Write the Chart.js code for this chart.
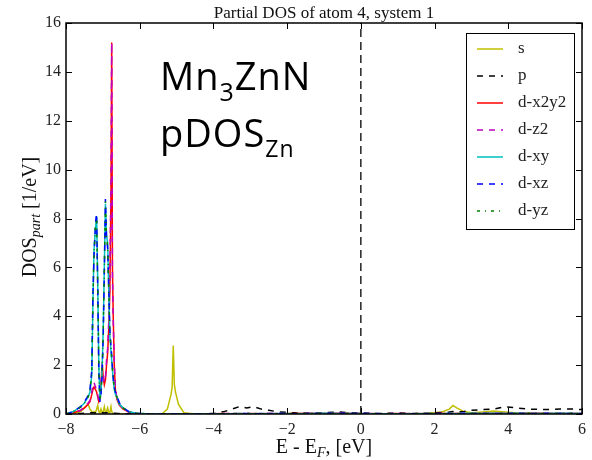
<!DOCTYPE html>
<html>
<head>
<meta charset="utf-8">
<title>Partial DOS of atom 4</title>
<script src="https://cdn.jsdelivr.net/npm/chart.js@4.4.0/dist/chart.umd.min.js"></script>
<style>
  html, body { margin: 0; padding: 0; background: #fff; }
  #wrap { width: 592px; height: 460px; }
</style>
</head>
<body>
<div id="wrap"><canvas id="pdos" width="592" height="460"></canvas></div>
<script>
// energy grid E - E_F [eV], dense around the Zn-d peaks
const energy = [
  -8.0, -7.8, -7.6, -7.5, -7.4, -7.35, -7.3, -7.27, -7.24, -7.2,
  -7.17, -7.14, -7.11, -7.08, -7.05, -7.02, -6.99, -6.96, -6.93, -6.9,
  -6.87, -6.84, -6.81, -6.78, -6.76, -6.74, -6.72, -6.69, -6.66, -6.62,
  -6.55, -6.45, -6.3, -6.1, -5.8, -5.4, -5.25, -5.15, -5.12, -5.09,
  -5.06, -5.03, -4.95, -4.8, -4.5, -4.0, -3.7, -3.5, -3.3, -3.1,
  -2.9, -2.7, -2.5, -2.2, -1.8, -1.4, -1.0, -0.6, -0.2, 0.2,
  0.6, 1.0, 1.4, 1.8, 2.2, 2.4, 2.5, 2.6, 2.8, 3.0,
  3.3, 3.6, 3.9, 4.2, 4.6, 5.0, 5.4, 5.8, 6.0
];

const dosS = [
  0, 0.02, 0.1, 0.25, 0.4, 0.2, 0.1, 0.05, 0.1, 0.05,
  0.2, 0.35, 0.1, 0.05, 0.2, 0.05, 0.1, 0.3, 0.05, 0.1,
  0.25, 0.05, 0.05, 0.3, 0.1, 0.05, 0.02, 0.01, 0, 0,
  0, 0, 0, 0, 0, 0, 0.2, 0.8, 1.1, 2.8,
  1.2, 0.9, 0.4, 0.05, 0, 0, 0, 0, 0, 0,
  0, 0, 0, 0, 0, 0, 0, 0, 0.01, 0,
  0, 0, 0.01, 0.02, 0.08, 0.2, 0.35, 0.25, 0.1, 0.05,
  0.08, 0.12, 0.08, 0.05, 0.03, 0.02, 0.02, 0.01, 0.01
];

const dosP = [
  0, 0.01, 0.02, 0.03, 0.04, 0.04, 0.05, 0.05, 0.04, 0.05,
  0.05, 0.04, 0.03, 0.03, 0.04, 0.05, 0.05, 0.04, 0.05, 0.05,
  0.05, 0.04, 0.05, 0.05, 0.05, 0.04, 0.04, 0.03, 0.03, 0.02,
  0.02, 0.01, 0.01, 0, 0, 0, 0, 0, 0, 0,
  0, 0, 0, 0, 0, 0.02, 0.1, 0.2, 0.3, 0.25,
  0.3, 0.2, 0.15, 0.08, 0.05, 0.03, 0.05, 0.08, 0.05, 0.03,
  0.02, 0.04, 0.02, 0.03, 0.06, 0.08, 0.1, 0.08, 0.1, 0.15,
  0.18, 0.2, 0.3, 0.25, 0.2, 0.18, 0.2, 0.2, 0.18
];

const dosDx2y2 = [
  0, 0.05, 0.15, 0.25, 0.4, 0.5, 0.8, 1.0, 1.1, 1.0,
  0.9, 0.7, 0.5, 0.6, 1.2, 2.1, 1.5, 1.2, 1.4, 2.0,
  2.5, 3.5, 5.0, 9.0, 15.2, 6.0, 4.1, 2.0, 1.0, 0.6,
  0.35, 0.2, 0.08, 0.02, 0.01, 0, 0, 0, 0, 0,
  0, 0, 0, 0, 0, 0.01, 0.02, 0.01, 0.02, 0.01,
  0.02, 0.01, 0.02, 0.01, 0.02, 0.03, 0.02, 0.03, 0.02, 0.01,
  0.01, 0.02, 0.01, 0.02, 0.02, 0.01, 0.02, 0.02, 0.01, 0.02,
  0.02, 0.03, 0.02, 0.02, 0.03, 0.02, 0.02, 0.02, 0.02
];

const dosDz2 = [
  0, 0.05, 0.15, 0.3, 0.45, 0.55, 0.9, 1.2, 1.3, 1.1,
  1.0, 0.8, 0.55, 0.7, 1.3, 1.9, 1.6, 1.3, 1.5, 2.2,
  2.7, 3.8, 5.5, 9.5, 15.2, 5.8, 3.9, 2.1, 1.1, 0.65,
  0.4, 0.22, 0.08, 0.02, 0.01, 0, 0, 0, 0, 0,
  0, 0, 0, 0, 0, 0.01, 0.01, 0.02, 0.01, 0.02,
  0.01, 0.02, 0.01, 0.02, 0.01, 0.02, 0.02, 0.02, 0.03, 0.02,
  0.01, 0.01, 0.02, 0.01, 0.02, 0.02, 0.01, 0.02, 0.02, 0.01,
  0.02, 0.02, 0.03, 0.02, 0.02, 0.02, 0.03, 0.02, 0.02
];

const dosDxy = [
  0, 0.1, 0.3, 0.45, 0.7, 0.9, 1.6, 4.5, 6.7, 7.6,
  8.1, 5.5, 2.0, 0.6, 0.9, 1.8, 3.5, 6.0, 8.6, 7.3,
  7.0, 5.0, 3.2, 2.6, 2.2, 1.8, 1.4, 1.0, 0.8, 0.7,
  0.4, 0.25, 0.1, 0.03, 0.01, 0, 0, 0, 0, 0,
  0, 0, 0, 0, 0, 0, 0, 0.01, 0.02, 0.01,
  0.01, 0.02, 0.01, 0.02, 0.01, 0.02, 0.03, 0.02, 0.02, 0.01,
  0.01, 0.01, 0.01, 0.02, 0.01, 0.02, 0.02, 0.01, 0.02, 0.03,
  0.02, 0.03, 0.02, 0.03, 0.02, 0.02, 0.03, 0.02, 0.02
];

const dosDxz = [
  0, 0.1, 0.3, 0.5, 0.75, 1.0, 1.8, 4.8, 6.5, 7.8,
  8.2, 5.2, 1.8, 0.5, 0.8, 1.6, 3.2, 5.8, 8.8, 7.2,
  6.8, 5.2, 3.4, 2.8, 2.4, 1.9, 1.5, 1.1, 0.9, 0.75,
  0.45, 0.25, 0.1, 0.03, 0.01, 0, 0, 0, 0, 0,
  0, 0, 0, 0, 0, 0, 0.01, 0.01, 0.02, 0.02,
  0.01, 0.01, 0.02, 0.02, 0.01, 0.02, 0.02, 0.03, 0.02, 0.02,
  0.01, 0.02, 0.01, 0.01, 0.02, 0.02, 0.01, 0.02, 0.03, 0.02,
  0.03, 0.02, 0.02, 0.03, 0.02, 0.03, 0.02, 0.02, 0.02
];

const dosDyz = [
  0, 0.1, 0.28, 0.45, 0.7, 0.95, 1.7, 4.6, 6.6, 7.7,
  8.0, 5.4, 1.9, 0.55, 0.85, 1.7, 3.4, 5.9, 8.7, 7.2,
  6.9, 5.1, 3.3, 2.7, 2.3, 1.85, 1.45, 1.05, 0.85, 0.7,
  0.42, 0.25, 0.1, 0.03, 0.01, 0, 0, 0, 0, 0,
  0, 0, 0, 0, 0, 0, 0.01, 0.02, 0.01, 0.02,
  0.02, 0.01, 0.02, 0.01, 0.02, 0.02, 0.02, 0.02, 0.03, 0.02,
  0.02, 0.01, 0.02, 0.02, 0.01, 0.02, 0.02, 0.02, 0.02, 0.02,
  0.02, 0.02, 0.03, 0.02, 0.03, 0.02, 0.02, 0.03, 0.02
];

const seriesNames = ['s', 'p', 'd-x2y2', 'd-z2', 'd-xy', 'd-xz', 'd-yz'];
const seriesValues = [dosS, dosP, dosDx2y2, dosDz2, dosDxy, dosDxz, dosDyz];
const seriesColors = ['#bfbf00', '#000000', '#ff0000', '#bf00bf', '#00bfbf', '#0000ff', '#008000'];
const seriesDash = [[], [6, 6], [], [6, 6], [], [6, 6], [3, 5, 1, 5]];

const xTicks = [-8, -6, -4, -2, 0, 2, 4, 6];
const yTicks = [0, 2, 4, 6, 8, 10, 12, 14, 16];
const fermiEnergy = 0;

const serif = "'Liberation Serif', 'DejaVu Serif', serif";

const datasets = seriesNames.map((name, i) => ({
  label: name,
  data: energy.map((e, k) => ({ x: e, y: seriesValues[i][k] })),
  borderColor: seriesColors[i],
  borderDash: seriesDash[i],
  borderWidth: 1.5,
  pointRadius: 0,
  tension: 0,
  fill: false,
  order: seriesNames.length - i   // later series drawn on top, like matplotlib
}));

function fmt(v) {
  return v < 0 ? '\u2212' + Math.abs(v) : String(v);
}

// draws a run of text pieces (for subscripts) starting at x, baseline y
function drawRuns(ctx, runs, x, y, align, spacing) {
  ctx.letterSpacing = (spacing || 0) + 'px';
  let total = 0;
  runs.forEach(r => { ctx.font = r.font; total += ctx.measureText(r.t).width; });
  let cx = align === 'center' ? x - total / 2 : x;
  ctx.textAlign = 'left';
  ctx.textBaseline = 'alphabetic';
  runs.forEach(r => {
    ctx.font = r.font;
    ctx.fillText(r.t, cx, y + (r.dy || 0));
    cx += ctx.measureText(r.t).width;
  });
  ctx.letterSpacing = '0px';
}

const decorPlugin = {
  id: 'decor',
  beforeDatasetsDraw(chart) {
    const { ctx, chartArea: a, scales } = chart;
    const fx = scales.x.getPixelForValue(fermiEnergy);
    ctx.save();
    ctx.strokeStyle = '#000';
    ctx.lineWidth = 1.3;
    ctx.setLineDash([8, 5]);
    ctx.beginPath();
    ctx.moveTo(fx, a.bottom);
    ctx.lineTo(fx, a.top);
    ctx.stroke();
    ctx.restore();
  },
  afterDatasetsDraw(chart) {
    const { ctx, chartArea: a, scales } = chart;
    ctx.save();
    ctx.strokeStyle = '#000';
    ctx.lineWidth = 1;
    ctx.setLineDash([]);

    // inward ticks on all four sides
    const tl = 6;
    ctx.beginPath();
    xTicks.forEach(v => {
      const px = Math.round(scales.x.getPixelForValue(v)) + 0.5;
      ctx.moveTo(px, a.bottom); ctx.lineTo(px, a.bottom - tl);
      ctx.moveTo(px, a.top); ctx.lineTo(px, a.top + tl);
    });
    yTicks.forEach(v => {
      const py = Math.round(scales.y.getPixelForValue(v)) + 0.5;
      ctx.moveTo(a.left, py); ctx.lineTo(a.left + tl, py);
      ctx.moveTo(a.right, py); ctx.lineTo(a.right - tl, py);
    });
    ctx.stroke();

    // frame
    ctx.lineWidth = 1.5;
    ctx.strokeRect(a.left, a.top, a.right - a.left, a.bottom - a.top);

    // legend box
    const lx = 466, ly = 33, lw = 108, lh = 196;
    ctx.fillStyle = '#fff';
    ctx.fillRect(lx, ly, lw, lh);
    ctx.lineWidth = 1;
    ctx.strokeRect(lx + 0.5, ly + 0.5, lw, lh);
    chart.data.datasets.forEach((ds, i) => {
      const y = 49 + i * 27;
      ctx.strokeStyle = ds.borderColor;
      ctx.lineWidth = 1.5;
      ctx.setLineDash(ds.borderDash);
      ctx.beginPath();
      ctx.moveTo(477, y);
      ctx.lineTo(503, y);
      ctx.stroke();
      ctx.setLineDash([]);
      ctx.fillStyle = '#222';
      ctx.font = '17px ' + serif;
      ctx.textAlign = 'left';
      ctx.textBaseline = 'middle';
      ctx.fillText(ds.label, 518, y);
    });

    // title and axis labels
    ctx.fillStyle = '#111';
    ctx.font = '17px ' + serif;
    ctx.textAlign = 'center';
    ctx.textBaseline = 'alphabetic';
    ctx.fillText('Partial DOS of atom 4, system 1', (a.left + a.right) / 2, 18);

    drawRuns(ctx, [
      { t: 'E - E', font: '20px ' + serif },
      { t: 'F', font: 'italic 14px ' + serif, dy: 4 },
      { t: ', [eV]', font: '20px ' + serif }
    ], (a.left + a.right) / 2, 453, 'center');

    ctx.save();
    ctx.translate(36, 217);
    ctx.rotate(-Math.PI / 2);
    drawRuns(ctx, [
      { t: 'DOS', font: '20px ' + serif },
      { t: 'part', font: 'italic 14px ' + serif, dy: 4 },
      { t: ' [1/eV]', font: '20px ' + serif }
    ], 0, 0, 'center');
    ctx.restore();

    // annotation
    const sans = "'Open Sans', 'Noto Sans', sans-serif";
    ctx.fillStyle = '#000';
    drawRuns(ctx, [
      { t: 'Mn', font: '38px ' + sans },
      { t: '3', font: '25px ' + sans, dy: 11 },
      { t: 'ZnN', font: '38px ' + sans }
    ], 160, 90, 'left', 1);
    drawRuns(ctx, [
      { t: 'pDOS', font: '38px ' + sans },
      { t: 'Zn', font: '23px ' + sans, dy: 10 }
    ], 160, 147, 'left', 1);
    ctx.restore();
  }
};

new Chart(document.getElementById('pdos'), {
  type: 'line',
  data: { datasets: datasets },
  options: {
    responsive: false,
    animation: false,
    devicePixelRatio: 1,
    layout: { padding: { top: 23, right: 10, left: 0, bottom: 0 } },
    plugins: {
      legend: { display: false },
      tooltip: { enabled: false },
      title: { display: false }
    },
    scales: {
      x: {
        type: 'linear',
        min: -8,
        max: 6,
        afterBuildTicks: s => { s.ticks = xTicks.map(v => ({ value: v })); },
        afterFit: s => { s.height = 46; },
        ticks: {
          callback: v => fmt(v),
          font: { family: serif, size: 16 },
          color: '#222',
          padding: 6,
          maxRotation: 0
        },
        grid: { display: false, drawTicks: false },
        border: { display: false }
      },
      y: {
        type: 'linear',
        min: 0,
        max: 16,
        afterBuildTicks: s => { s.ticks = yTicks.map(v => ({ value: v })); },
        afterFit: s => { s.width = 66; },
        ticks: {
          callback: v => fmt(v),
          font: { family: serif, size: 16 },
          color: '#222',
          padding: 5
        },
        grid: { display: false, drawTicks: false },
        border: { display: false }
      }
    }
  },
  plugins: [decorPlugin]
});
</script>
</body>
</html>
